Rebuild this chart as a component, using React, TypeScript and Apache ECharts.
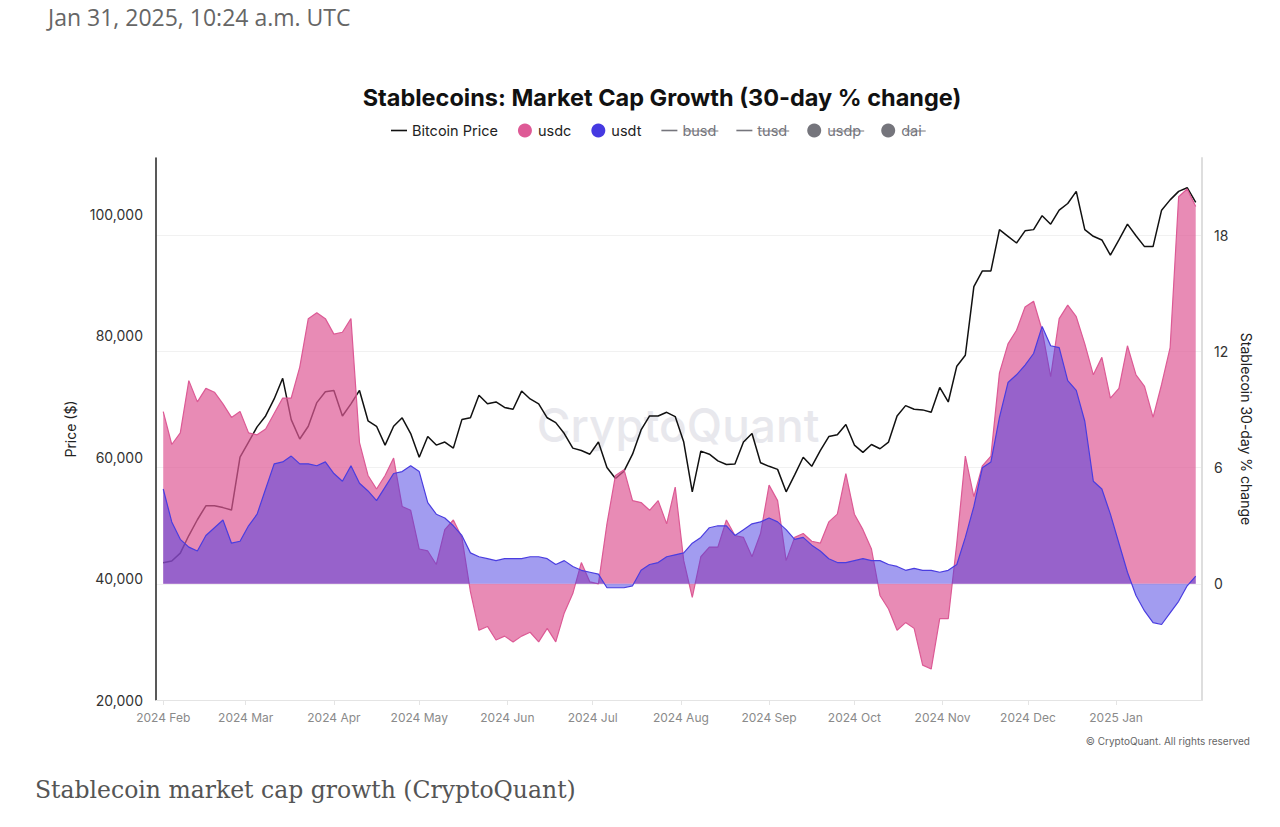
import React, { useEffect, useRef } from "react";
import * as echarts from "echarts";

const dates = [
  "2024-02-01","2024-02-04","2024-02-07","2024-02-10","2024-02-13","2024-02-16","2024-02-19","2024-02-22","2024-02-25","2024-02-28",
  "2024-03-02","2024-03-05","2024-03-08","2024-03-11","2024-03-14","2024-03-17","2024-03-20","2024-03-23","2024-03-26","2024-03-29",
  "2024-04-01","2024-04-04","2024-04-07","2024-04-10","2024-04-13","2024-04-16","2024-04-19","2024-04-22","2024-04-25","2024-04-28",
  "2024-05-01","2024-05-04","2024-05-07","2024-05-10","2024-05-13","2024-05-16","2024-05-19","2024-05-22","2024-05-25","2024-05-28",
  "2024-05-31","2024-06-03","2024-06-06","2024-06-09","2024-06-12","2024-06-15","2024-06-18","2024-06-21","2024-06-24","2024-06-27",
  "2024-06-30","2024-07-03","2024-07-06","2024-07-09","2024-07-12","2024-07-15","2024-07-18","2024-07-21","2024-07-24","2024-07-27",
  "2024-07-30","2024-08-02","2024-08-05","2024-08-08","2024-08-11","2024-08-14","2024-08-17","2024-08-20","2024-08-23","2024-08-26",
  "2024-08-29","2024-09-01","2024-09-04","2024-09-07","2024-09-10","2024-09-13","2024-09-16","2024-09-19","2024-09-22","2024-09-25",
  "2024-09-28","2024-10-01","2024-10-04","2024-10-07","2024-10-10","2024-10-13","2024-10-16","2024-10-19","2024-10-22","2024-10-25",
  "2024-10-28","2024-10-31","2024-11-03","2024-11-06","2024-11-09","2024-11-12","2024-11-15","2024-11-18","2024-11-21","2024-11-24",
  "2024-11-27","2024-11-30","2024-12-03","2024-12-06","2024-12-09","2024-12-12","2024-12-15","2024-12-18","2024-12-21","2024-12-24",
  "2024-12-27","2024-12-30","2025-01-02","2025-01-05","2025-01-08","2025-01-11","2025-01-14","2025-01-17","2025-01-20","2025-01-23",
  "2025-01-26","2025-01-29",
];

const bitcoinPrice = [
  42600, 42900, 44200, 47100, 49700, 52000, 52000, 51700, 51300, 60000,
  62500, 65000, 66800, 69600, 73000, 66200, 63000, 65100, 69000, 70800,
  71000, 66800, 68800, 71000, 66000, 65100, 62000, 65100, 66500, 63900,
  60000, 63400, 62000, 62500, 61500, 66200, 66500, 70200, 68800, 69100,
  68200, 67900, 70900, 69600, 68800, 66500, 65700, 63900, 61500, 61100,
  60500, 62500, 58300, 56500, 57700, 60500, 64500, 66800, 66800, 67400,
  66700, 62500, 54300, 61000, 60500, 59400, 58800, 58900, 62500, 63900,
  59100, 58500, 58000, 54300, 57100, 60000, 58500, 61100, 63400, 63700,
  65400, 62000, 60800, 62100, 61400, 62500, 66800, 68500, 67900, 67800,
  67400, 71500, 69100, 75000, 76800, 88100, 90700, 90700, 97500, 96400,
  95300, 97300, 97500, 99800, 98400, 100700, 101800, 103800, 97500, 96400,
  95800, 93300, 95800, 98400, 96500, 94700, 94700, 100700, 102400, 103800,
  104400, 102000,
];

const usdc = [
  8.9, 7.2, 7.8, 10.5, 9.4, 10.1, 9.9, 9.3, 8.6, 8.9,
  7.8, 7.7, 8.0, 8.8, 9.6, 9.6, 11.2, 13.7, 14.0, 13.7,
  12.9, 13.0, 13.7, 7.3, 5.6, 4.9, 5.6, 6.5, 4.0, 3.8,
  1.8, 1.7, 1.0, 2.8, 3.3, 2.4, -0.4, -2.4, -2.2, -2.9,
  -2.7, -3.0, -2.7, -2.5, -3.0, -2.3, -3.0, -1.5, -0.5, 1.1,
  0.1, 0.0, 3.1, 5.6, 5.9, 4.3, 4.2, 3.8, 4.3, 3.1,
  5.0, 1.2, -0.7, 1.4, 1.9, 1.9, 3.3, 2.5, 2.4, 1.4,
  2.6, 5.1, 4.3, 1.2, 2.4, 2.6, 2.2, 2.1, 3.2, 3.6,
  5.7, 3.6, 2.8, 1.8, -0.6, -1.3, -2.4, -2.0, -2.3, -4.2,
  -4.4, -1.8, -1.8, 2.1, 6.6, 4.5, 6.1, 6.6, 10.9, 12.4,
  13.1, 14.3, 14.6, 13.1, 10.7, 13.7, 14.4, 13.8, 12.4, 10.8,
  11.7, 9.6, 10.1, 12.3, 10.8, 10.2, 8.6, 10.3, 12.2, 20.0,
  20.4, 19.5,
];

const usdt = [
  4.9, 3.2, 2.3, 1.9, 1.7, 2.5, 2.9, 3.3, 2.1, 2.2,
  3.0, 3.6, 4.9, 6.2, 6.3, 6.6, 6.2, 6.2, 6.1, 6.3,
  5.7, 5.3, 6.1, 5.2, 4.8, 4.3, 5.0, 5.7, 5.8, 6.1,
  5.8, 4.2, 3.6, 3.4, 3.0, 2.5, 1.6, 1.4, 1.3, 1.2,
  1.3, 1.3, 1.3, 1.4, 1.4, 1.3, 1.0, 1.2, 0.9, 0.7,
  0.6, 0.5, -0.2, -0.2, -0.2, -0.1, 0.7, 1.0, 1.1, 1.4,
  1.5, 1.6, 2.1, 2.4, 2.9, 3.0, 3.0, 2.5, 2.8, 3.1,
  3.2, 3.4, 3.2, 2.8, 2.3, 2.4, 2.0, 1.7, 1.3, 1.1,
  1.1, 1.2, 1.3, 1.2, 1.2, 1.0, 0.9, 0.7, 0.8, 0.7,
  0.7, 0.6, 0.7, 1.0, 2.4, 4.0, 6.0, 6.3, 8.6, 10.4,
  10.8, 11.3, 11.9, 13.3, 12.3, 12.2, 10.5, 10.0, 8.4, 5.3,
  4.9, 3.6, 2.1, 0.6, -0.6, -1.4, -2.0, -2.1, -1.5, -0.9,
  -0.1, 0.4,
];

const legendNames = ["Bitcoin Price", "usdc", "usdt", "busd", "tusd", "usdp", "dai"];
const hiddenNames = ["busd", "tusd", "usdp", "dai"];
const circleIconNames = ["usdc", "usdt", "usdp", "dai"];
const monthNames = ["Jan", "Feb", "Mar", "Apr", "May", "Jun", "Jul", "Aug", "Sep", "Oct", "Nov", "Dec"];
const priceTicks = [20000, 40000, 60000, 80000, 100000];

const TITLE = "Stablecoins: Market Cap Growth (30-day % change)";
const HEADER = "Jan 31, 2025, 10:24 a.m. UTC";
const CAPTION = "Stablecoin market cap growth (CryptoQuant)";
const COPYRIGHT = "\u00A9 CryptoQuant. All rights reserved";

const FONT = "Inter";
const LINE_ICON = "path://M0,0H16V1.6H0Z";

export default function App() {
  const ref = useRef<HTMLDivElement>(null);

  useEffect(() => {
    document.body.style.margin = "0";
    const el = ref.current;
    if (!el) return;
    const chart = echarts.init(el, null, { renderer: "svg" });

    const ts = dates.map((d) => Date.parse(d));

    // legend layout (to place strike-through lines over disabled entries)
    const legendFontSize = 14.5;
    const canvas = document.createElement("canvas");
    const ctx = canvas.getContext("2d")!;
    ctx.font = `${legendFontSize}px ${FONT}`;
    const iconW = 16;
    const iconTextGap = 5;
    const itemGap = 20;
    const widths = legendNames.map((n) => ctx.measureText(n).width);
    const total =
      widths.reduce((s, w) => s + iconW + iconTextGap + w, 0) + itemGap * (legendNames.length - 1);
    const legendLeft = Math.round(658 - total / 2);
    const legendCenterY = 130;
    const strikes: any[] = [];
    let cx = legendLeft;
    legendNames.forEach((n, i) => {
      const tx = cx + iconW + iconTextGap;
      if (hiddenNames.includes(n)) {
        strikes.push({
          type: "line",
          silent: true,
          z: 100,
          shape: { x1: tx, y1: legendCenterY + 1, x2: tx + widths[i], y2: legendCenterY + 1 },
          style: { stroke: "#75757c", lineWidth: 1 },
        });
      }
      cx = tx + widths[i] + itemGap;
    });

    const option: any = {
      animation: false,
      useUTC: true,
      backgroundColor: "#ffffff",
      textStyle: { fontFamily: FONT },
      title: {
        text: TITLE,
        left: 657,
        top: 80,
        textAlign: "center",
        textStyle: { fontSize: 23.5, fontWeight: "bold", color: "#111111", fontFamily: FONT },
      },
      legend: {
        left: legendLeft,
        top: legendCenterY - 7,
        padding: 0,
        itemWidth: iconW,
        itemHeight: 14,
        itemGap: itemGap,
        textStyle: { fontSize: legendFontSize, color: "#222222", fontFamily: FONT },
        inactiveColor: "#75757c",
        inactiveBorderColor: "#75757c",
        itemStyle: { borderWidth: 0 },
        selected: { busd: false, tusd: false, usdp: false, dai: false },
        data: legendNames.map((n) => ({
          name: n,
          icon: circleIconNames.includes(n) ? "circle" : LINE_ICON,
        })),
      },
      grid: { left: 156, right: 78, top: 158, bottom: 127, containLabel: false },
      xAxis: {
        type: "time",
        min: Date.UTC(2024, 0, 29, 11),
        max: Date.UTC(2025, 0, 31, 5),
        splitNumber: 12,
        axisLine: { onZero: false, lineStyle: { color: "#e4e4e4", width: 1 } },
        axisTick: { show: true, length: 5, lineStyle: { color: "#e4e4e4" } },
        splitLine: { show: false },
        axisLabel: {
          color: "#8a8a8a",
          fontSize: 12,
          fontFamily: FONT,
          margin: 11,
          formatter: (v: number) => {
            const d = new Date(v);
            return `${d.getUTCFullYear()} ${monthNames[d.getUTCMonth()]}`;
          },
        },
      },
      yAxis: [
        {
          type: "value",
          position: "left",
          min: 20000,
          max: 109300,
          interval: 20000,
          name: "Price ($)",
          nameLocation: "middle",
          nameRotate: 90,
          nameGap: 79,
          nameTextStyle: { fontSize: 14, color: "#222222", fontFamily: FONT },
          axisLine: { show: true, lineStyle: { color: "#222222", width: 1.5 } },
          axisTick: { show: false },
          splitLine: { show: false },
          axisLabel: {
            color: "#333333",
            fontSize: 14,
            fontFamily: FONT,
            margin: 13,
            showMaxLabel: false,
            formatter: (v: number) => (priceTicks.includes(v) ? v.toLocaleString("en-US") : ""),
          },
        },
        {
          type: "value",
          position: "right",
          min: -6,
          max: 22,
          interval: 6,
          name: "Stablecoin 30-day % change",
          nameLocation: "middle",
          nameRotate: -90,
          nameGap: 36,
          nameTextStyle: { fontSize: 14, color: "#222222", fontFamily: FONT },
          axisLine: { show: true, lineStyle: { color: "#dedede", width: 2 } },
          axisTick: { show: false },
          splitLine: {
            show: true,
            showMinLine: false,
            showMaxLine: false,
            lineStyle: { color: "#f1f1f1", width: 1 },
          },
          axisLabel: {
            color: "#333333",
            fontSize: 14,
            fontFamily: FONT,
            margin: 12,
            showMinLabel: false,
            showMaxLabel: false,
          },
        },
      ],
      graphic: [
        {
          type: "text",
          x: 48,
          y: 17,
          silent: true,
          style: {
            text: HEADER,
            fill: "#666666",
            fontSize: 23,
            fontFamily: "Open Sans",
            align: "left",
            verticalAlign: "middle",
            textAlign: "left",
            textVerticalAlign: "middle",
          },
        },
        {
          type: "text",
          x: 678,
          y: 425,
          z: -10,
          silent: true,
          style: {
            text: "CryptoQuant",
            fill: "#e8e8ed",
            fontSize: 46,
            fontWeight: 500,
            fontFamily: FONT,
            align: "center",
            verticalAlign: "middle",
            textAlign: "center",
            textVerticalAlign: "middle",
          },
        },
        {
          type: "text",
          x: 1250,
          y: 741,
          silent: true,
          style: {
            text: COPYRIGHT,
            fill: "#666666",
            fontSize: 10,
            fontFamily: FONT,
            align: "right",
            verticalAlign: "middle",
            textAlign: "right",
            textVerticalAlign: "middle",
          },
        },
        {
          type: "text",
          x: 35,
          y: 790,
          silent: true,
          style: {
            text: CAPTION,
            fill: "#555555",
            fontSize: 23.5,
            fontFamily: "DejaVu Serif",
            align: "left",
            verticalAlign: "middle",
            textAlign: "left",
            textVerticalAlign: "middle",
          },
        },
        ...strikes,
      ],
      series: [
        {
          name: "Bitcoin Price",
          type: "line",
          yAxisIndex: 0,
          color: "#111111",
          showSymbol: false,
          symbol: "none",
          lineStyle: { color: "#111111", width: 1.5 },
          data: ts.map((t, i) => [t, bitcoinPrice[i]]),
          z: 2,
        },
        {
          name: "usdc",
          type: "line",
          yAxisIndex: 1,
          color: "#de5a96",
          showSymbol: false,
          symbol: "none",
          lineStyle: { color: "#dc5a95", width: 1.2 },
          areaStyle: { color: "#de5a96", opacity: 0.7 },
          data: ts.map((t, i) => [t, usdc[i]]),
          z: 3,
        },
        {
          name: "usdt",
          type: "line",
          yAxisIndex: 1,
          color: "#4539e1",
          showSymbol: false,
          symbol: "none",
          lineStyle: { color: "#4a3de0", width: 1.2 },
          areaStyle: { color: "#4539e1", opacity: 0.5 },
          data: ts.map((t, i) => [t, usdt[i]]),
          z: 4,
        },
        { name: "busd", type: "line", yAxisIndex: 1, color: "#888888", data: [] },
        { name: "tusd", type: "line", yAxisIndex: 1, color: "#888888", data: [] },
        { name: "usdp", type: "line", yAxisIndex: 1, color: "#888888", data: [] },
        { name: "dai", type: "line", yAxisIndex: 1, color: "#888888", data: [] },
      ],
    };

    chart.setOption(option);
    return () => {
      chart.dispose();
    };
  }, []);

  return <div ref={ref} style={{ width: 1280, height: 827 }} />;
}
